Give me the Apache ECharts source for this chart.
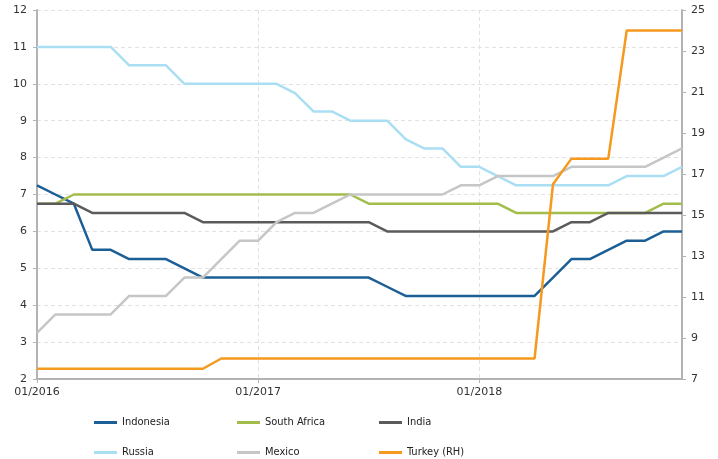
<!DOCTYPE html>
<html>
<head>
<meta charset="utf-8">
<script src="https://cdn.jsdelivr.net/npm/echarts@6/dist/echarts.min.js"></script>
<style>
  html, body { margin: 0; padding: 0; background: #fff; }
  #chart { width: 718px; height: 459px; }
</style>
</head>
<body>
<div id="chart"></div>
<script>
// monthly, 01/2016 .. 12/2018
const months = []
for (let y = 2016; y <= 2018; y++) {
  for (let m = 1; m <= 12; m++) months.push((m < 10 ? '0' + m : '' + m) + '/' + y)
}

// policy rates, % (left axis)
const indonesia = [7.25, 7.0, 6.75, 5.5, 5.5, 5.25, 5.25, 5.25, 5.0, 4.75,
  4.75, 4.75, 4.75, 4.75, 4.75, 4.75, 4.75, 4.75, 4.75, 4.5,
  4.25, 4.25, 4.25, 4.25, 4.25, 4.25, 4.25, 4.25, 4.75, 5.25,
  5.25, 5.5, 5.75, 5.75, 6.0, 6.0]
const southAfrica = [6.75, 6.75, 7, 7, 7, 7, 7, 7, 7, 7,
  7, 7, 7, 7, 7, 7, 7, 7, 6.75, 6.75,
  6.75, 6.75, 6.75, 6.75, 6.75, 6.75, 6.5, 6.5, 6.5, 6.5,
  6.5, 6.5, 6.5, 6.5, 6.75, 6.75]
const india = [6.75, 6.75, 6.75, 6.5, 6.5, 6.5, 6.5, 6.5, 6.5, 6.25,
  6.25, 6.25, 6.25, 6.25, 6.25, 6.25, 6.25, 6.25, 6.25, 6.0,
  6.0, 6.0, 6.0, 6.0, 6.0, 6.0, 6.0, 6.0, 6.0, 6.25,
  6.25, 6.5, 6.5, 6.5, 6.5, 6.5]
const russia = [11, 11, 11, 11, 11, 10.5, 10.5, 10.5, 10, 10,
  10, 10, 10, 10, 9.75, 9.25, 9.25, 9, 9, 9,
  8.5, 8.25, 8.25, 7.75, 7.75, 7.5, 7.25, 7.25, 7.25, 7.25,
  7.25, 7.25, 7.5, 7.5, 7.5, 7.75]
const mexico = [3.25, 3.75, 3.75, 3.75, 3.75, 4.25, 4.25, 4.25, 4.75, 4.75,
  5.25, 5.75, 5.75, 6.25, 6.5, 6.5, 6.75, 7.0, 7.0, 7.0,
  7.0, 7.0, 7.0, 7.25, 7.25, 7.5, 7.5, 7.5, 7.5, 7.75,
  7.75, 7.75, 7.75, 7.75, 8.0, 8.25]
// right axis
const turkey = [7.5, 7.5, 7.5, 7.5, 7.5, 7.5, 7.5, 7.5, 7.5, 7.5,
  8, 8, 8, 8, 8, 8, 8, 8, 8, 8,
  8, 8, 8, 8, 8, 8, 8, 8, 16.5, 17.75,
  17.75, 17.75, 24, 24, 24, 24]

const font = 'DejaVu Sans'
const axisGray = '#b3b3b3'

const seriesDefs = [
  { name: 'Indonesia', data: indonesia, color: '#1c5f97', axis: 0 },
  { name: 'South Africa', data: southAfrica, color: '#a2bd4c', axis: 0 },
  { name: 'India', data: india, color: '#5b5b5b', axis: 0 },
  { name: 'Russia', data: russia, color: '#aadff3', axis: 0 },
  { name: 'Mexico', data: mexico, color: '#c6c6c6', axis: 0 },
  { name: 'Turkey (RH)', data: turkey, color: '#f5991f', axis: 1 }
]

// legend slots: 3 columns x 2 rows
const legendLeft = [89, 232, 374]
const legendTop = [412, 442]

const showEvery12 = (i) => i % 12 === 0

const option = {
  animation: false,
  textStyle: { fontFamily: font },
  grid: { left: 37, right: 36, top: 10, bottom: 80, containLabel: false },
  legend: seriesDefs.map((s, i) => ({
    data: [s.name],
    left: legendLeft[i % 3],
    top: legendTop[Math.floor(i / 3)],
    icon: 'rect',
    itemWidth: 23,
    itemHeight: 3,
    selectedMode: false,
    textStyle: { fontFamily: 'DejaVu Sans Condensed', fontSize: 11, color: '#222' }
  })),
  xAxis: {
    type: 'category',
    data: months,
    boundaryGap: false,
    axisLine: { lineStyle: { color: axisGray, width: 2 } },
    axisTick: { show: true, interval: showEvery12, length: 4, lineStyle: { color: axisGray } },
    axisLabel: { interval: showEvery12, color: '#333', fontSize: 11, margin: 8, fontFamily: font },
    splitLine: { show: true, interval: showEvery12, lineStyle: { color: '#e2e2e2', type: [4, 3] } }
  },
  yAxis: [
    {
      type: 'value', min: 2, max: 12, interval: 1,
      axisLine: { show: true, lineStyle: { color: axisGray, width: 2 } },
      axisTick: { show: true, length: 4, lineStyle: { color: axisGray } },
      axisLabel: { color: '#333', fontSize: 11, margin: 10, fontFamily: font },
      splitLine: { show: true, lineStyle: { color: '#e2e2e2', type: [4, 3] } }
    },
    {
      type: 'value', min: 7, max: 25, interval: 2,
      axisLine: { show: true, lineStyle: { color: axisGray, width: 2 } },
      axisTick: { show: true, length: 4, lineStyle: { color: axisGray } },
      axisLabel: { color: '#333', fontSize: 11, margin: 9, fontFamily: font },
      splitLine: { show: false }
    }
  ],
  series: seriesDefs.map(s => ({
    name: s.name,
    type: 'line',
    data: s.data,
    yAxisIndex: s.axis,
    symbol: 'none',
    color: s.color,
    lineStyle: { width: 2.5, color: s.color },
    z: s.axis === 1 ? 3 : 2
  }))
}

const chart = echarts.init(document.getElementById('chart'), null, { renderer: 'canvas' })
chart.setOption(option)
</script>
</body>
</html>
